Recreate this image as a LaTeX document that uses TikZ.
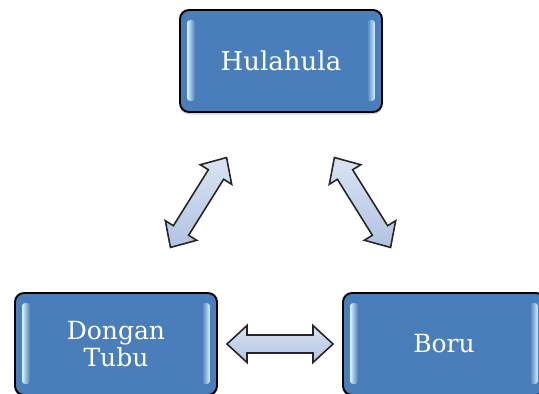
\documentclass[tikz,border=0pt]{standalone}
\usepackage{fontspec}
\setmainfont{DejaVu Serif}
\usetikzlibrary{calc,shadows}

\definecolor{biru}{RGB}{74,126,187}
\definecolor{kilap}{RGB}{215,244,255}
\definecolor{panahterang}{RGB}{218,227,241}
\definecolor{panahgelap}{RGB}{176,195,225}

\tikzset{
  kotak/.style={draw=black, line width=1.9pt, rounded corners=9pt, fill=biru,
    text=white, minimum width=202pt, minimum height=102pt, align=center,
    font=\fontsize{25}{27}\selectfont,
    drop shadow={opacity=0.3, shadow xshift=0pt, shadow yshift=-2.5pt}},
  panah/.pic={
    \draw[draw=black!85, line width=1.6pt, top color=panahterang,
      bottom color=panahgelap]
      (-53,0) -- (-33,18.5) -- (-33,9) -- (33,9) -- (33,18.5) -- (53,0)
      -- (33,-18.5) -- (33,-9) -- (-33,-9) -- (-33,-18.5) -- cycle;
  },
}

\begin{document}
\begin{tikzpicture}[x=1pt, y=-1pt]
    \useasboundingbox (0,0) rectangle (539,394);
    \clip (0,0) rectangle (539,394);

    % 三个方框
    \node [kotak, font=\fontsize{26}{28}\selectfont] (hula) at (281,61) {Hulahula};
    \node [kotak] (dongan) at (116,344) {Dongan\\Tubu};
    \node [kotak] (boru) at (444,344) {Boru};

    % 方框两侧的高光
    \foreach \b in {hula,dongan,boru} {
        \shade [left color=kilap, right color=biru, rounded corners=3pt]
            ($(\b.north west)+(8,11)$) rectangle ($(\b.south west)+(16,-12)$);
        \shade [left color=biru, right color=kilap, rounded corners=3pt]
            ($(\b.north east)+(-16,11)$) rectangle ($(\b.south east)+(-8,-12)$);
    }

    % 双向箭头
    \pic [rotate=58] at ($(hula.south west)!0.5!(dongan.north east)$) {panah};
    \pic [rotate=-58] at ($(hula.south east)!0.5!(boru.north west)$) {panah};
    \pic at ($(dongan.east)!0.5!(boru.west)$) {panah};
\end{tikzpicture}
\end{document}
